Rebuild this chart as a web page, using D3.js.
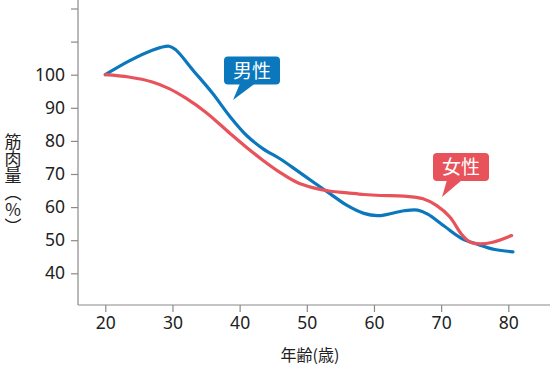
<!DOCTYPE html>
<html><head><meta charset="utf-8">
<script src="https://cdn.jsdelivr.net/npm/d3@7"></script>
<style>
body{margin:0;background:#fff;}
svg{display:block;font-family:"Noto Sans CJK JP","Noto Sans",sans-serif;}
</style></head>
<body><svg id="c" width="550" height="367"></svg>
<script>
const xTicks = [20,30,40,50,60,70,80];
const yTicks = [40,50,60,70,80,90,100,110,120,130];
const yLabelMax = 100;
const maleAges = [20,23.5,27,29.5,30.5,33,36,38.5,41,43.5,46,48.5,51,53.5,56,58.5,60.5,62,64.5,66.5,68,70.5,73,75.5,78,80.7];
const maleVals = [100,104.1,107.4,108.6,107.5,101.5,94.3,87.5,81.7,77.6,74.6,71.1,67.5,64,60.5,58.1,57.4,57.8,58.9,59.1,57.9,54.2,50.6,48.7,47.2,46.5];
const femaleAges = [20,23.5,27,29.5,32,35,38.5,41,43.5,46,48.5,51,53.5,56,58.5,61,64.5,67.3,69.3,71.3,73,74.3,75.8,77.7,80.5];
const femaleVals = [100,99.3,97.8,95.8,92.9,88.6,82.4,78.1,74.1,70.5,67.5,65.8,64.8,64.3,63.8,63.5,63.3,62.5,60.5,57,51.9,49.4,48.9,49.4,51.4];
const seriesNames = ["男性","女性"];
const colors = ["#0b77bd","#e8525a"];

const svg = d3.select("#c");
const x = d3.scaleLinear().domain([20,80]).range([105.3,508.3]);
const y = d3.scaleLinear().domain([40,100]).range([273.3,74.7]);
const axisColor = "#8a8a8a";
const textColor = "#222";
const x0 = 78, yBase = 305;

svg.append("line").attr("x1",x0).attr("x2",x0).attr("y1",y(130)).attr("y2",yBase).attr("stroke",axisColor).attr("stroke-width",1.2);
svg.append("line").attr("x1",x0).attr("x2",550).attr("y1",yBase).attr("y2",yBase).attr("stroke",axisColor).attr("stroke-width",1.2);

const ya = svg.append("g").attr("transform",`translate(${x0},0)`)
  .call(d3.axisLeft(y).tickValues(yTicks).tickSize(7).tickPadding(6)
    .tickFormat(d=> d<=yLabelMax ? d : ""));
const xa = svg.append("g").attr("transform",`translate(0,${yBase})`)
  .call(d3.axisBottom(x).tickValues(xTicks).tickSize(7).tickPadding(5));
[ya,xa].forEach(g=>{
  g.select(".domain").remove();
  g.selectAll(".tick line").attr("stroke",axisColor).attr("stroke-width",1.2);
  g.selectAll(".tick text").attr("fill",textColor).style("font-size","17.5px").style("font-family","'Noto Sans',sans-serif");
});

svg.append("text").attr("x",310).attr("y",361).attr("text-anchor","middle")
  .attr("fill",textColor).style("font-size","16px").text("年齢(歳)");
svg.append("text").attr("x",13).attr("y",133)
  .style("writing-mode","vertical-rl").attr("fill",textColor).style("font-size","17px")
  .text("筋肉量（％）");

const line = d3.line().x(d=>x(d[0])).y(d=>y(d[1])).curve(d3.curveCatmullRom.alpha(0.5));
const data = [d3.zip(maleAges,maleVals), d3.zip(femaleAges,femaleVals)];
data.forEach((s,i)=>{
  svg.append("path").datum(s).attr("d",line).attr("fill","none")
    .attr("stroke",colors[i]).attr("stroke-width",3.2).attr("stroke-linecap","round").attr("stroke-linejoin","round");
});

function callout(cx, top, w, h, tip, base, color, label){
  const g = svg.append("g");
  g.append("rect").attr("x",cx-w/2).attr("y",top).attr("width",w).attr("height",h).attr("rx",4).attr("fill",color);
  g.append("path").attr("d",`M${base[0]},${top+h-1} L${tip[0]},${tip[1]} L${base[1]},${top+h-1} Z`).attr("fill",color);
  g.append("text").attr("x",cx).attr("y",top+h/2+7).attr("text-anchor","middle").attr("fill","#fff")
    .style("font-size","19px").text(label);
}
callout(252,56.5,56,28,[233,100],[240,255],colors[0],seriesNames[0]);
callout(461,153,56,28,[442,197],[447,462],colors[1],seriesNames[1]);
</script></body></html>
